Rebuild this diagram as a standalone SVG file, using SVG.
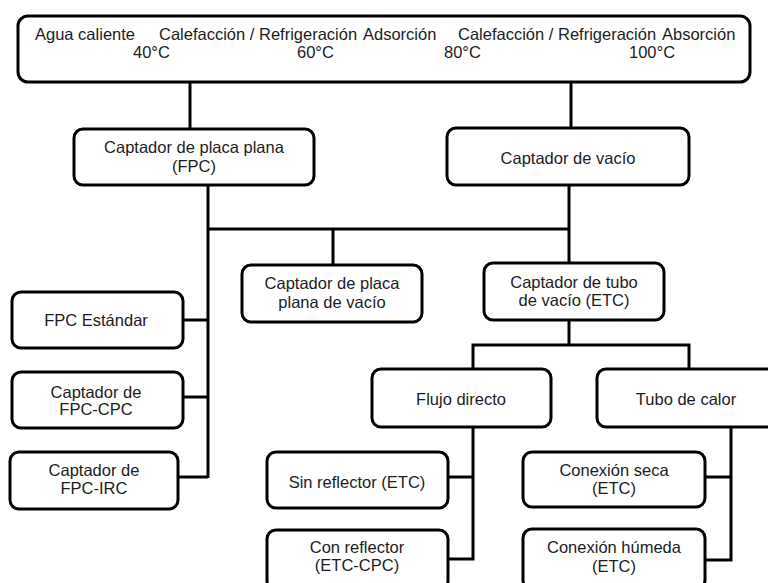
<svg xmlns="http://www.w3.org/2000/svg" width="768" height="583" viewBox="0 0 768 583">
<style>
.box{fill:#fff;stroke:#000;stroke-width:3}
.t{font-family:"Liberation Sans",Arial,sans-serif;font-size:16.5px;fill:#1c1c24;text-anchor:middle}
.ts{font-family:"Liberation Sans",Arial,sans-serif;font-size:16.5px;fill:#1c1c24}
#connectors path{fill:none;stroke:#000;stroke-width:3}
</style>
<rect width="768" height="583" fill="#fff"/>
<g id="connectors">
<path d="M190,83 V129"/>
<path d="M571,83 V128"/>
<path d="M208,185 V478"/>
<path d="M208,229 H569"/>
<path d="M333,229 V265"/>
<path d="M569,185 V263"/>
<path d="M183,320 H208"/>
<path d="M183,397 H208"/>
<path d="M178,477 H208"/>
<path d="M569,320 V345"/>
<path d="M473,369 V345 H689 V369"/>
<path d="M473,427 V559 H448"/>
<path d="M448,477 H473"/>
<path d="M731,427 V560 H705"/>
<path d="M705,477 H731"/>
</g>
<g id="top">
<rect class="box" x="18" y="16" width="732" height="66" rx="10"/>
<text class="ts" x="35" y="40">Agua caliente</text>
<text class="ts" x="159" y="40">Calefacción / Refrigeración</text>
<text class="ts" x="363" y="40">Adsorción</text>
<text class="ts" x="458" y="40">Calefacción / Refrigeración</text>
<text class="ts" x="662" y="40">Absorción</text>
<text class="ts" x="133" y="58">40°C</text>
<text class="ts" x="297" y="58">60°C</text>
<text class="ts" x="444" y="58">80°C</text>
<text class="ts" x="629" y="58">100°C</text>
</g>
<g id="fpc">
<rect class="box" x="74" y="129" width="240" height="56" rx="9"/>
<text class="t" x="194" y="153">Captador de placa plana</text>
<text class="t" x="194" y="172">(FPC)</text>
</g>
<g id="vacio">
<rect class="box" x="447" y="128" width="242" height="57" rx="9"/>
<text class="t" x="568" y="164">Captador de vacío</text>
</g>
<g id="ppv">
<rect class="box" x="242" y="265" width="180" height="57" rx="9"/>
<text class="t" x="332" y="289">Captador de placa</text>
<text class="t" x="332" y="308">plana de vacío</text>
</g>
<g id="etc">
<rect class="box" x="484" y="263" width="180" height="57" rx="9"/>
<text class="t" x="574" y="288">Captador de tubo</text>
<text class="t" x="574" y="306">de vacío (ETC)</text>
</g>
<g id="std">
<rect class="box" x="12" y="292" width="171" height="56" rx="9"/>
<text class="t" x="96" y="326">FPC Estándar</text>
</g>
<g id="cpc">
<rect class="box" x="12" y="372" width="171" height="56" rx="9"/>
<text class="t" x="96" y="398">Captador de</text>
<text class="t" x="96" y="415">FPC-CPC</text>
</g>
<g id="irc">
<rect class="box" x="10" y="452" width="168" height="57" rx="9"/>
<text class="t" x="94" y="476">Captador de</text>
<text class="t" x="94" y="494">FPC-IRC</text>
</g>
<g id="flujo">
<rect class="box" x="372" y="369" width="179" height="58" rx="9"/>
<text class="t" x="461" y="405">Flujo directo</text>
</g>
<g id="tubo">
<rect class="box" x="597" y="369" width="180" height="58" rx="9"/>
<text class="t" x="686" y="405">Tubo de calor</text>
</g>
<g id="sin">
<rect class="box" x="267" y="452" width="181" height="56" rx="9"/>
<text class="t" x="357" y="488">Sin reflector (ETC)</text>
</g>
<g id="con">
<rect class="box" x="267" y="530" width="181" height="60" rx="9"/>
<text class="t" x="357" y="553">Con reflector</text>
<text class="t" x="357" y="571">(ETC-CPC)</text>
</g>
<g id="seca">
<rect class="box" x="523" y="452" width="182" height="55" rx="9"/>
<text class="t" x="614" y="476">Conexión seca</text>
<text class="t" x="614" y="494">(ETC)</text>
</g>
<g id="humeda">
<rect class="box" x="523" y="529" width="182" height="60" rx="9"/>
<text class="t" x="614" y="553">Conexión húmeda</text>
<text class="t" x="614" y="572">(ETC)</text>
</g>
</svg>
